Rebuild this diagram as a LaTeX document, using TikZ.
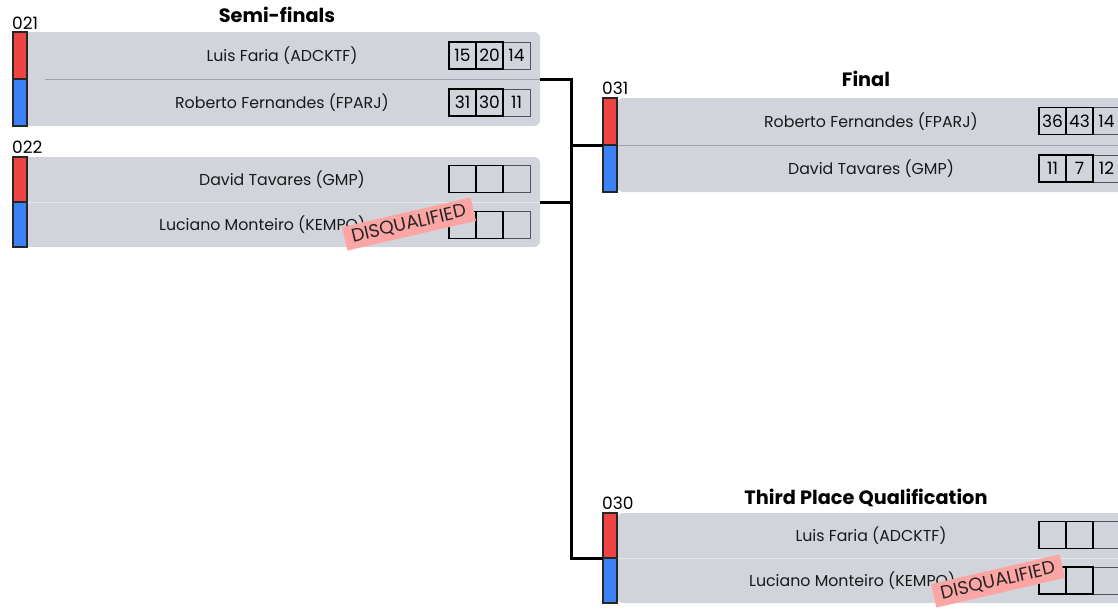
\documentclass[tikz,border=0pt]{standalone}
\usepackage{fontspec}
\setmainfont{Poppins}
\definecolor{boxgray}{HTML}{D1D5DB}
\definecolor{barred}{HTML}{EF4444}
\definecolor{barblue}{HTML}{3B82F6}
\definecolor{dqpink}{HTML}{FCA5A5}
\definecolor{sepdark}{HTML}{9CA3AF}
\definecolor{seplight}{HTML}{E5E7EB}
\definecolor{lastgray}{HTML}{4B5563}
\begin{document}
\begin{tikzpicture}[x=1pt,y=-1pt,
  matchbg/.style={fill=boxgray, rounded corners=6pt, inner sep=0pt, outer sep=0pt, anchor=north west},
  redbar/.style={fill=barred, draw=black!85, line width=1.2pt, inner sep=0pt, outer sep=0pt, minimum width=14, anchor=north west},
  bluebar/.style={fill=barblue, draw=black!85, line width=1.2pt, inner sep=0pt, outer sep=0pt, minimum width=14, anchor=north west},
  pname/.style={font=\fontsize{15.8}{19}\selectfont, inner sep=0pt, text=black!90},
  mid/.style={font=\fontsize{17}{20}\selectfont, inner sep=0pt, anchor=base west},
  title/.style={font=\fontsize{19.3}{23}\selectfont\bfseries, inner sep=0pt, anchor=base},
  scorebox/.style={draw=black, line width=1.8pt, minimum width=27, minimum height=27, inner sep=0pt, font=\fontsize{17}{20}\selectfont},
  scorelast/.style={draw=lastgray, line width=1pt, minimum width=27, minimum height=27, inner sep=0pt, font=\fontsize{17}{20}\selectfont},
  sepd/.style={draw=sepdark, line width=0.9pt},
  sepl/.style={draw=seplight, line width=0.9pt},
  conn/.style={draw=black, line width=3pt},
  dq/.style={fill=dqpink, minimum width=132, minimum height=24, inner sep=0pt, font=\fontsize{18.5}{21}\selectfont, text=black!85}
]
\useasboundingbox (0,0) rectangle (1118,608);
\clip (0,0) rectangle (1118,608);

% ---------- Semi-finals ----------
\node[title] (t1) at (277,22) {Semi-finals};

% match 021
\node[mid] (l021) at (12,29) {021};
\node[matchbg, minimum width=513, minimum height=94] (m021) at (27,32) {};
\fill[boxgray] (m021.north west) rectangle ([xshift=20pt]m021.south west);
\draw[sepd] (45,79) -- (m021.east);
\node[redbar, minimum height=47] (r021) at (13,32) {};
\node[bluebar, minimum height=47] (b021) at (13,79) {};
\node[pname] (n021a) at (282,55.5) {Luis Faria (ADCKTF)};
\node[pname] (n021b) at (282,102.5) {Roberto Fernandes (FPARJ)};
\node[scorelast] (s021a3) at (516.5,55.5) {14};
\node[scorebox] (s021a1) at (462.5,55.5) {15};
\node[scorebox] (s021a2) at (489.5,55.5) {20};
\node[scorelast] (s021b3) at (516.5,102.5) {11};
\node[scorebox] (s021b1) at (462.5,102.5) {31};
\node[scorebox] (s021b2) at (489.5,102.5) {30};

% match 022
\node[mid] (l022) at (12,153) {022};
\node[matchbg, minimum width=513, minimum height=90] (m022) at (27,157) {};
\fill[boxgray] (m022.north west) rectangle ([xshift=20pt]m022.south west);
\draw[sepl] (27,202) -- (m022.east);
\node[redbar, minimum height=45] (r022) at (13,157) {};
\node[bluebar, minimum height=45] (b022) at (13,202) {};
\node[pname] (n022a) at (282,179.5) {David Tavares (GMP)};
\node[pname, anchor=west] (n022b) at (159,224.5) {Luciano Monteiro (KEMPO)};
\node[scorelast] (s022a3) at (516.5,179) {};
\node[scorebox] (s022a1) at (462.5,179) {};
\node[scorebox] (s022a2) at (489.5,179) {};
\node[scorelast] (s022b3) at (516.5,225) {};
\node[scorebox] (s022b1) at (462.5,225) {};
\node[scorebox] (s022b2) at (489.5,225) {};
\node[dq, rotate=13] (dq022) at (409,224) {DISQUALIFIED};

% ---------- Final ----------
\node[title] (t2) at (866,86) {Final};
\node[mid] (l031) at (602,94) {031};
\node[matchbg, minimum width=540, minimum height=94] (m031) at (617,98) {};
\draw[sepd] (617,145) -- (1118,145);
\node[redbar, minimum height=47] (r031) at (603,98) {};
\node[bluebar, minimum height=47] (b031) at (603,145) {};
\node[pname] (n031a) at (871,121.5) {Roberto Fernandes (FPARJ)};
\node[pname] (n031b) at (871,168.5) {David Tavares (GMP)};
\node[scorelast] (s031a3) at (1106.5,121) {14};
\node[scorebox] (s031a1) at (1052.5,121) {36};
\node[scorebox] (s031a2) at (1079.5,121) {43};
\node[scorelast] (s031b3) at (1106.5,168.5) {12};
\node[scorebox] (s031b1) at (1052.5,168.5) {11};
\node[scorebox] (s031b2) at (1079.5,168.5) {7};

% ---------- Third place ----------
\node[title] (t3) at (866,504) {Third Place Qualification};
\node[mid] (l030) at (602,509) {030};
\node[matchbg, minimum width=540, minimum height=90] (m030) at (617,513) {};
\draw[sepl] (617,558) -- (1118,558);
\node[redbar, minimum height=45] (r030) at (603,513) {};
\node[bluebar, minimum height=45] (b030) at (603,558) {};
\node[pname] (n030a) at (871,535.5) {Luis Faria (ADCKTF)};
\node[pname, anchor=west] (n030b) at (749,580.5) {Luciano Monteiro (KEMPO)};
\node[scorelast] (s030a3) at (1106.5,535) {};
\node[scorebox] (s030a1) at (1052.5,535) {};
\node[scorebox] (s030a2) at (1079.5,535) {};
\node[scorelast] (s030b3) at (1106.5,580.5) {};
\node[scorebox] (s030b1) at (1052.5,580.5) {};
\node[scorebox] (s030b2) at (1079.5,580.5) {};
\node[dq, rotate=13] (dq030) at (998,581) {DISQUALIFIED};

% ---------- connectors ----------
\draw[conn] (m021.east) -- ++(31,0) coordinate (ja) |- (b030.north west);
\draw[conn] (m022.east) -- (m022.east -| ja);
\draw[conn] (ja |- b031.north west) -- (b031.north west);
\end{tikzpicture}
\end{document}
